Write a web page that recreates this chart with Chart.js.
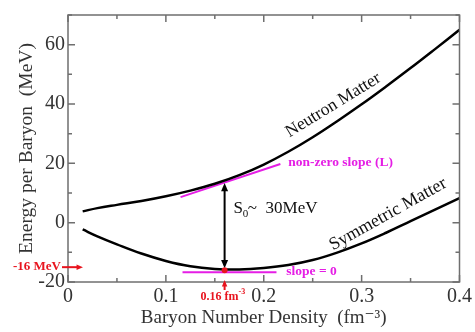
<!DOCTYPE html>
<html>
<head>
<meta charset="utf-8">
<script src="https://cdn.jsdelivr.net/npm/chart.js@4.4.1/dist/chart.umd.min.js"></script>
<style>
  html, body { margin: 0; padding: 0; background: #fff; }
  #wrap { width: 475px; height: 332px; }
</style>
</head>
<body>
<div id="wrap"><canvas id="c"></canvas></div>
<script>
// baryon density (fm^-3)
var density    = [0.015, 0.03, 0.05, 0.075, 0.1, 0.125, 0.15, 0.175, 0.2, 0.225, 0.25, 0.275, 0.3, 0.325, 0.35, 0.375, 0.4];
// energy per baryon (MeV)
var neutronE   = [3.8, 4.9, 6.0, 7.3, 8.9, 10.8, 13.1, 16.0, 19.6, 23.9, 28.8, 34.2, 39.9, 45.9, 52.1, 58.5, 65.0];
var symmetricE = [-2.3, -4.6, -7.3, -10.4, -12.9, -14.7, -15.6, -15.8, -15.3, -14.3, -12.6, -10.1, -7.0, -3.4, 0.5, 4.4, 8.3];

// tangent lines at saturation density
var slopeLX = [0.115, 0.217];
var slopeLY = [8.6, 19.8];
var slope0X = [0.117, 0.213];
var slope0Y = [-16.7, -16.7];

var n0 = 0.16, e0 = -16;
var xTicks = [0, 0.1, 0.2, 0.3, 0.4];
var yTicks = [-20, 0, 20, 40, 60];

var SERIF = '"Liberation Serif", "DejaVu Serif", serif';
var MAGENTA = '#e51ee5';
var RED = '#e8141e';

function pts(xs, ys) {
  return xs.map(function (x, i) { return { x: x, y: ys[i] }; });
}

function arrowHead(ctx, x, y, ang, size) {
  ctx.beginPath();
  ctx.moveTo(x, y);
  ctx.lineTo(x - size * Math.cos(ang - 0.4), y - size * Math.sin(ang - 0.4));
  ctx.lineTo(x - size * Math.cos(ang + 0.4), y - size * Math.sin(ang + 0.4));
  ctx.closePath();
  ctx.fill();
}

var decor = {
  id: 'decor',
  afterDatasetsDraw: function (chart) {
    var ctx = chart.ctx, a = chart.chartArea;
    var xs = chart.scales.x, ys = chart.scales.y;
    ctx.save();

    // frame
    ctx.strokeStyle = '#6f6f6f';
    ctx.lineWidth = 1.5;
    ctx.strokeRect(a.left, a.top, a.right - a.left, a.bottom - a.top);

    // inward ticks
    ctx.beginPath();
    for (var v = 0; v <= 0.4001; v += 0.05) {
      var px = xs.getPixelForValue(v);
      var len = (Math.round(v * 20) % 2 === 0) ? 7 : 4;
      ctx.moveTo(px, a.bottom); ctx.lineTo(px, a.bottom - len);
      ctx.moveTo(px, a.top); ctx.lineTo(px, a.top + len);
    }
    for (var w = -20; w <= 70; w += 10) {
      var py = ys.getPixelForValue(w);
      var l2 = (w % 20 === 0) ? 7 : 4;
      ctx.moveTo(a.left, py); ctx.lineTo(a.left + l2, py);
      ctx.moveTo(a.right, py); ctx.lineTo(a.right - l2, py);
    }
    ctx.stroke();

    // S0 double arrow
    var ax = xs.getPixelForValue(n0);
    var aTop = ys.getPixelForValue(13.4), aBot = ys.getPixelForValue(-15.4);
    ctx.strokeStyle = '#000'; ctx.fillStyle = '#000'; ctx.lineWidth = 2;
    ctx.beginPath(); ctx.moveTo(ax, aTop + 4); ctx.lineTo(ax, aBot - 4); ctx.stroke();
    arrowHead(ctx, ax, aTop, -Math.PI / 2, 9);
    arrowHead(ctx, ax, aBot, Math.PI / 2, 9);

    // saturation point
    ctx.fillStyle = RED;
    ctx.beginPath(); ctx.arc(ax, ys.getPixelForValue(e0), 3, 0, Math.PI * 2); ctx.fill();

    // red arrow under the axis
    ctx.strokeStyle = RED; ctx.lineWidth = 2;
    ctx.beginPath(); ctx.moveTo(ax, a.bottom + 8); ctx.lineTo(ax, a.bottom + 1); ctx.stroke();
    arrowHead(ctx, ax, a.bottom - 2, -Math.PI / 2, 7);
    ctx.font = 'bold 12px ' + SERIF;
    ctx.textAlign = 'right'; ctx.textBaseline = 'middle';
    ctx.fillText('0.16 fm', ax + 14, a.bottom + 15);
    ctx.font = 'bold 8px ' + SERIF;
    ctx.textAlign = 'left';
    ctx.fillText('-3', ax + 14, a.bottom + 10);

    // -16 MeV arrow on the left
    var my = ys.getPixelForValue(-15);
    ctx.beginPath(); ctx.moveTo(a.left - 6, my); ctx.lineTo(a.left + 10, my); ctx.stroke();
    arrowHead(ctx, a.left + 15, my, 0, 7);
    ctx.font = 'bold 13px ' + SERIF;
    ctx.textAlign = 'right';
    ctx.fillText('-16 MeV', a.left - 7, my - 1);

    // curve labels
    function rotText(txt, x, y, ang, font, color) {
      ctx.save();
      ctx.translate(xs.getPixelForValue(x), ys.getPixelForValue(y));
      ctx.rotate(ang);
      ctx.font = font; ctx.fillStyle = color;
      ctx.textAlign = 'center'; ctx.textBaseline = 'middle';
      ctx.fillText(txt, 0, 0);
      ctx.restore();
    }
    rotText('Neutron Matter', 0.271, 39.6, -0.55, '17.5px ' + SERIF, '#111');
    rotText('Symmetric Matter', 0.327, 2.8, -0.51, '18px ' + SERIF, '#111');

    // S0 label
    ctx.fillStyle = '#111';
    ctx.textAlign = 'left'; ctx.textBaseline = 'middle';
    var sx = xs.getPixelForValue(0.169), sy = ys.getPixelForValue(4.9);
    ctx.font = '17px ' + SERIF;
    ctx.fillText('S', sx, sy);
    var sw = ctx.measureText('S').width;
    ctx.font = '11px ' + SERIF;
    ctx.fillText('0', sx + sw, sy + 6);
    ctx.font = '17px ' + SERIF;
    ctx.fillText('~  30MeV', sx + sw + 5, sy);

    // tangent labels
    ctx.fillStyle = MAGENTA;
    ctx.font = 'bold 13.5px ' + SERIF;
    ctx.fillText('non-zero slope (L)', xs.getPixelForValue(0.225), ys.getPixelForValue(20.2));
    ctx.fillText('slope = 0', xs.getPixelForValue(0.223), ys.getPixelForValue(-16.3));

    ctx.restore();
  }
};

new Chart(document.getElementById('c'), {
  type: 'scatter',
  data: {
    datasets: [
      { data: pts(density, neutronE), showLine: true, borderColor: '#000', borderWidth: 2.5,
        pointRadius: 0, tension: 0.4 },
      { data: pts(density, symmetricE), showLine: true, borderColor: '#000', borderWidth: 2.5,
        pointRadius: 0, tension: 0.4 },
      { data: pts(slopeLX, slopeLY), showLine: true, borderColor: MAGENTA, borderWidth: 2, pointRadius: 0 },
      { data: pts(slope0X, slope0Y), showLine: true, borderColor: MAGENTA, borderWidth: 2, pointRadius: 0 }
    ]
  },
  options: {
    responsive: true,
    maintainAspectRatio: false,
    animation: false,
    events: [],
    layout: { padding: { top: 5, right: 12, left: 0, bottom: 0 } },
    plugins: { legend: { display: false }, tooltip: { enabled: false } },
    scales: {
      x: {
        type: 'linear', min: 0, max: 0.4,
        afterBuildTicks: function (s) { s.ticks = xTicks.map(function (v) { return { value: v }; }); },
        afterFit: function (s) { s.height = 50; },
        grid: { display: false, drawTicks: false },
        border: { display: false },
        ticks: { padding: 3, color: '#333', font: { family: SERIF, size: 20 },
                 maxRotation: 0, callback: function (v) { return String(v); } },
        title: { display: true, text: 'Baryon Number Density  (fm\u207B\u00B3)', color: '#333',
                 font: { family: SERIF, size: 19 }, padding: { top: 0, bottom: 3 } }
      },
      y: {
        type: 'linear', min: -20, max: 70,
        afterBuildTicks: function (s) { s.ticks = yTicks.map(function (v) { return { value: v }; }); },
        afterFit: function (s) { s.width = 68; },
        grid: { display: false, drawTicks: false },
        border: { display: false },
        ticks: { padding: 3, color: '#333', font: { family: SERIF, size: 20 } },
        title: { display: true, text: 'Energy per Baryon  (MeV)', color: '#333',
                 font: { family: SERIF, size: 19.5 }, padding: { top: 15, bottom: 0 } }
      }
    }
  },
  plugins: [decor]
});
</script>
</body>
</html>
